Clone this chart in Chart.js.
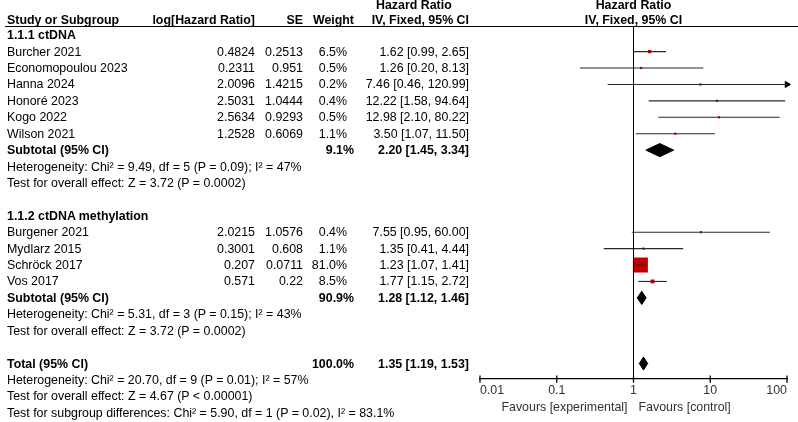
<!DOCTYPE html>
<html><head><meta charset="utf-8">
<script src="https://cdn.jsdelivr.net/npm/chart.js@4"></script>
<style>
html,body{margin:0;padding:0;background:#fff;}
#wrap{position:relative;width:798px;height:422px;overflow:hidden;font-family:"Liberation Sans",Arial,sans-serif;font-size:12.4px;color:#000;}
#c{position:absolute;left:0;top:0;}
#txt{position:absolute;left:0;top:0;width:798px;height:422px;}
.t{position:absolute;white-space:nowrap;line-height:16px;height:16px;}
.b{font-weight:bold;}
.g{color:#333;}
#rule{position:absolute;left:5px;right:0;top:26px;height:1px;background:#000;}
</style></head>
<body><div id="wrap"><canvas id="c" width="798" height="422"></canvas><div id="txt"><div id="rule"></div></div></div>
<script>
// ---------------- data ----------------
const studyNames = ["Burcher 2021","Economopoulou 2023","Hanna 2024","Honoré 2023","Kogo 2022","Wilson 2021","Burgener 2021","Mydlarz 2015","Schröck 2017","Vos 2017"];
const studyGroup = [0,0,0,0,0,0,1,1,1,1];
const logHRText = ["0.4824","0.2311","2.0096","2.5031","2.5634","1.2528","2.0215","0.3001","0.207","0.571"];
const seText = ["0.2513","0.951","1.4215","1.0444","0.9293","0.6069","1.0576","0.608","0.0711","0.22"];
const weights = [6.5,0.5,0.2,0.4,0.5,1.1,0.4,1.1,81.0,8.5];
const hr = [1.62,1.26,7.46,12.22,12.98,3.50,7.55,1.35,1.23,1.77];
const hrLow = [0.99,0.20,0.46,1.58,2.10,1.07,0.95,0.41,1.07,1.15];
const hrHigh = [2.65,8.13,120.99,94.64,80.22,11.50,60.00,4.44,1.41,2.72];

const groupNames = ["1.1.1 ctDNA","1.1.2 ctDNA methylation"];
const groupWeight = [9.1,90.9];
const groupHR = [2.20,1.28];
const groupLow = [1.45,1.12];
const groupHigh = [3.34,1.46];
const groupHet = ["Heterogeneity: Chi² = 9.49, df = 5 (P = 0.09); I² = 47%","Heterogeneity: Chi² = 5.31, df = 3 (P = 0.15); I² = 43%"];
const groupEffect = ["Test for overall effect: Z = 3.72 (P = 0.0002)","Test for overall effect: Z = 3.72 (P = 0.0002)"];

const totalWeight = 100.0;
const totalHR = 1.35, totalLow = 1.19, totalHigh = 1.53;
const totalHet = "Heterogeneity: Chi² = 20.70, df = 9 (P = 0.01); I² = 57%";
const totalEffect = "Test for overall effect: Z = 4.67 (P < 0.00001)";
const subgroupTest = "Test for subgroup differences: Chi² = 5.90, df = 1 (P = 0.02), I² = 83.1%";

const tickValues = [0.01,0.1,1,10,100];
const tickLabels = ["0.01","0.1","1","10","100"];
const favourLeft = "Favours [experimental]";
const favourRight = "Favours [control]";
const colHeaders = {study:"Study or Subgroup", est:"log[Hazard Ratio]", se:"SE", w:"Weight", hr1:"Hazard Ratio", hr2:"IV, Fixed, 95% CI"};

// ---------------- row structure ----------------
const rows = []; let r = 0;
groupNames.forEach((g, gi) => {
  rows.push({kind:'group', r:r++, text:g});
  studyNames.forEach((n,i) => { if (studyGroup[i] === gi) rows.push({kind:'study', r:r++, i}); });
  rows.push({kind:'sum', r:r++, label:'Subtotal (95% CI)', w:groupWeight[gi], est:groupHR[gi], lo:groupLow[gi], hi:groupHigh[gi]});
  rows.push({kind:'note', r:r++, text:groupHet[gi]});
  rows.push({kind:'note', r:r++, text:groupEffect[gi]});
  r++;
});
rows.push({kind:'sum', r:r++, label:'Total (95% CI)', w:totalWeight, est:totalHR, lo:totalLow, hi:totalHigh});
rows.push({kind:'note', r:r++, text:totalHet});
rows.push({kind:'note', r:r++, text:totalEffect});
rows.push({kind:'note', r:r++, text:subgroupTest});
const totalRow = rows.find(o => o.label === 'Total (95% CI)').r;

const X_MIN = tickValues[0], X_MAX = tickValues[tickValues.length-1];
const Y_MIN = -0.5, Y_MAX = totalRow + 0.95;

// ---------------- datasets ----------------
const datasets = [];
datasets.push({data:[{x:1,y:Y_MIN},{x:1,y:Y_MAX}], showLine:true, borderColor:'#000', borderWidth:1, pointRadius:0, clip:false});
const maxW = Math.max(...weights);
const sqPts = [], sqRad = [];
rows.filter(o => o.kind === 'study').forEach(o => {
  const i = o.i;
  const hiC = Math.min(hrHigh[i], X_MAX), loC = Math.max(hrLow[i], X_MIN);
  datasets.push({data:[{x:loC,y:o.r},{x:hiC,y:o.r}], showLine:true, borderColor:'#2a2a2a', borderWidth:1.1, pointRadius:0});
  if (hrHigh[i] > X_MAX) {
    datasets.push({data:[{x:X_MAX,y:o.r}], pointStyle:'triangle', rotation:90, pointRadius:3.5, backgroundColor:'#000', borderColor:'#000', borderWidth:1, clip:false});
  }
  sqPts.push({x:hr[i], y:o.r});
  const side = Math.max(2.2, 15 * Math.pow(weights[i]/maxW, 0.6));
  sqRad.push(side / Math.SQRT2);
});
datasets.push({data:sqPts, pointStyle:'rect', pointRadius:sqRad, backgroundColor:'#c00000', borderWidth:0});
rows.filter(o => o.kind === 'sum').forEach(o => {
  const h = 0.4;
  datasets.push({data:[{x:o.lo,y:o.r},{x:o.est,y:o.r-h},{x:o.hi,y:o.r},{x:o.est,y:o.r+h},{x:o.lo,y:o.r}],
    showLine:true, fill:'shape', backgroundColor:'#000', borderColor:'#000', borderWidth:1, pointRadius:0, tension:0});
});
datasets.push({data:tickValues.map(v => ({x:v,y:Y_MAX})), pointStyle:'line', rotation:90, pointRadius:3.6, borderColor:'#000', borderWidth:1.3, clip:false});

const FONT = '"Liberation Sans", Arial, sans-serif';
const chart = new Chart(document.getElementById('c'), {
  type:'scatter',
  data:{datasets},
  options:{
    responsive:false, animation:false, devicePixelRatio:1,
    layout:{padding:{left:480, right:11, top:27, bottom:20}},
    plugins:{legend:{display:false}, tooltip:{enabled:false}},
    scales:{
      x:{type:'logarithmic', min:X_MIN, max:X_MAX,
        afterBuildTicks: s => { s.ticks = tickValues.map(v => ({value:v})); },
        grid:{display:true, drawOnChartArea:false, drawTicks:false},
        border:{display:true, color:'#000', width:1.3},
        ticks:{align:'inner', padding:4, autoSkip:false, maxRotation:0, color:'#333',
          font:{family:FONT, size:12.4},
          callback:(v) => { const k = tickValues.indexOf(v); return k >= 0 ? tickLabels[k] : ''; }}
      },
      y:{type:'linear', display:false, reverse:true, min:Y_MIN, max:Y_MAX}
    }
  }
});

// ---------------- table text (HTML) ----------------
const txt = document.getElementById('txt');
function put(text, x, yc, align, cls){
  const d = document.createElement('div');
  d.className = 't ' + (cls||'');
  d.textContent = text;
  d.style.top = (yc - 8) + 'px';
  if (align === 'right') d.style.right = (798 - x) + 'px';
  else if (align === 'center') { d.style.left = (x - 200) + 'px'; d.style.width = '400px'; d.style.textAlign = 'center'; }
  else d.style.left = x + 'px';
  txt.appendChild(d);
}
const COL = {name:7, est:255, se:303, w:347, wSum:354, ci:469, hrHead:376};
const ys = chart.scales.y, xs = chart.scales.x;
const xOne = xs.getPixelForValue(1);
put(colHeaders.hr1, COL.hrHead, 5, 'left', 'b');
put(colHeaders.hr1, xOne, 5, 'center', 'b');
put(colHeaders.study, COL.name, 20, 'left', 'b');
put(colHeaders.est, COL.est, 20, 'right', 'b');
put(colHeaders.se, COL.se, 20, 'right', 'b');
put(colHeaders.w, COL.wSum, 20, 'right', 'b');
put(colHeaders.hr2, COL.ci, 20, 'right', 'b');
put(colHeaders.hr2, xOne, 20, 'center', 'b');
const ci = (e,l,h) => e.toFixed(2) + ' [' + l.toFixed(2) + ', ' + h.toFixed(2) + ']';
rows.forEach(o => {
  const y = ys.getPixelForValue(o.r);
  if (o.kind === 'group') put(o.text, COL.name, y, 'left', 'b');
  else if (o.kind === 'note') put(o.text, COL.name, y, 'left', '');
  else if (o.kind === 'study') {
    const i = o.i;
    put(studyNames[i], COL.name, y, 'left', '');
    put(logHRText[i], COL.est, y, 'right', '');
    put(seText[i], COL.se, y, 'right', '');
    put(weights[i].toFixed(1) + '%', COL.w, y, 'right', '');
    put(ci(hr[i], hrLow[i], hrHigh[i]), COL.ci, y, 'right', '');
  } else if (o.kind === 'sum') {
    put(o.label, COL.name, y, 'left', 'b');
    put(o.w.toFixed(1) + '%', COL.wSum, y, 'right', 'b');
    put(ci(o.est, o.lo, o.hi), COL.ci, y, 'right', 'b');
  }
});
const yFav = chart.chartArea.bottom + 27.5;
put(favourLeft, xOne - 6, yFav, 'right', 'g');
put(favourRight, xOne + 5, yFav, 'left', 'g');
</script>
</body></html>
